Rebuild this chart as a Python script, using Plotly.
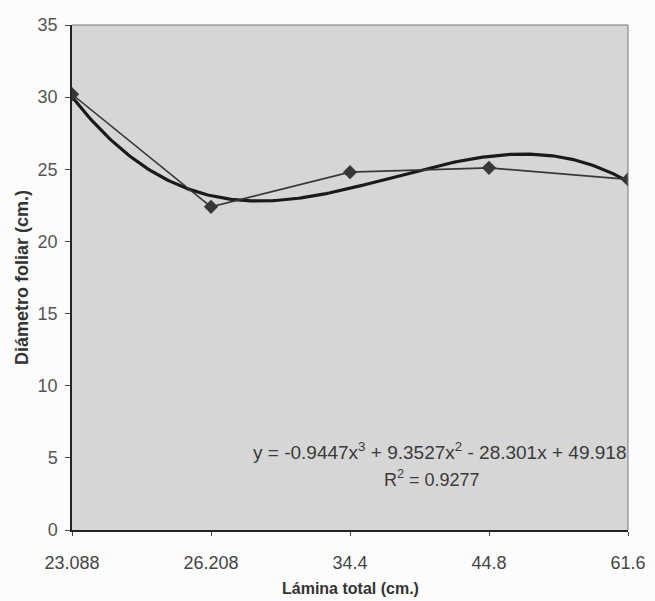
import numpy as np
import plotly.graph_objects as go

# Riego: lámina total aplicada vs diámetro foliar medio
lamina_labels = ["23.088", "26.208", "34.4", "44.8", "61.6"]
lamina_index = [1, 2, 3, 4, 5]
diametro = [30.2, 22.4, 24.8, 25.1, 24.3]

# Tendencia polinómica de tercer grado (coeficientes de la ecuación rotulada)
poly_coefs = [-0.9447, 9.3527, -28.301, 49.918]
r_squared = 0.9277

y_ticks = [0, 5, 10, 15, 20, 25, 30, 35]

x_fit = np.linspace(1, 5, 200)
y_fit = np.polyval(poly_coefs, x_fit)

fig = go.Figure()

fig.add_trace(go.Scatter(
    x=x_fit, y=y_fit, mode="lines",
    line=dict(color="#1a1a1a", width=3.2),
    hoverinfo="skip", showlegend=False,
))

fig.add_trace(go.Scatter(
    x=lamina_index, y=diametro, mode="lines+markers",
    line=dict(color="#383838", width=1.6),
    marker=dict(symbol="diamond", size=11, color="#383838"),
    showlegend=False,
))

font_main = "Liberation Sans, Arial, sans-serif"

eq_text = "y = -0.9447x<sup>3</sup> + 9.3527x<sup>2</sup> - 28.301x + 49.918"
fig.add_annotation(
    x=5, y=5.5, xref="x", yref="y", xanchor="right", yanchor="middle",
    text=eq_text, showarrow=False,
    font=dict(family=font_main, size=19, color="#3a3a3a"),
)
fig.add_annotation(
    x=3.59, y=3.6, xref="x", yref="y", xanchor="center", yanchor="middle",
    text=f"R<sup>2</sup> = {r_squared}", showarrow=False,
    font=dict(family=font_main, size=18, color="#3a3a3a"),
)
# Título del eje X
fig.add_annotation(
    x=0.5, y=-0.115, xref="paper", yref="paper", xanchor="center", yanchor="middle",
    text="<b>Lámina total (cm.)</b>", showarrow=False,
    font=dict(family=font_main, size=16, color="#333333"),
)

fig.update_layout(
    width=655, height=601,
    margin=dict(l=72, r=27, t=25, b=71),
    paper_bgcolor="#fcfcfc",
    plot_bgcolor="#d6d6d6",
    font=dict(family=font_main, size=18, color="#444444"),
    xaxis=dict(
        range=[1, 5], automargin=False,
        tickmode="array", tickvals=lamina_index, ticktext=lamina_labels,
        showgrid=False, zeroline=False,
        showline=True, linecolor="#222222", linewidth=1.5, mirror=False,
        ticks="outside", ticklen=4, tickcolor="#444444",
        ticklabelstandoff=12,
        tickfont=dict(size=18, color="#444444"),
    ),
    yaxis=dict(
        range=[0, 35],
        tickmode="array", tickvals=y_ticks,
        showgrid=False, zeroline=False,
        showline=True, linecolor="#222222", linewidth=1.5,
        ticks="outside", ticklen=5, tickcolor="#444444",
        ticklabelstandoff=4,
        tickfont=dict(size=18, color="#555555"),
        title=dict(text="<b>Diámetro foliar (cm.)</b>", standoff=4,
                   font=dict(size=18, color="#333333")),
    ),
    shapes=[
        dict(type="line", xref="paper", yref="paper", x0=0, x1=1, y0=1, y1=1,
             line=dict(color="#777777", width=1)),
        dict(type="line", xref="paper", yref="paper", x0=1, x1=1, y0=0, y1=1,
             line=dict(color="#777777", width=1)),
    ],
)

fig.write_html("out.html")
